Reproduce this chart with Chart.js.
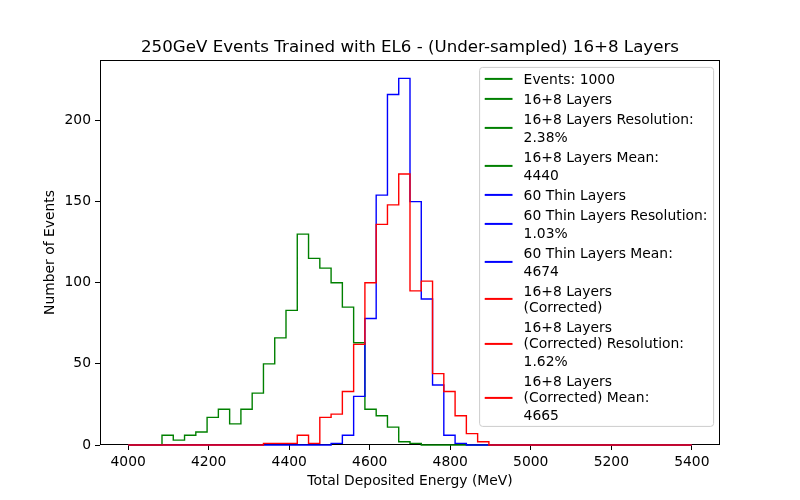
<!DOCTYPE html>
<html>
<head>
<meta charset="utf-8">
<script src="https://cdn.jsdelivr.net/npm/chart.js@4.4.0/dist/chart.umd.min.js"></script>
<style>
  html, body { margin: 0; padding: 0; background: #fff; }
  #wrap { width: 800px; height: 500px; }
</style>
</head>
<body>
<div id="wrap"><canvas id="chart" width="800" height="500"></canvas></div>
<script>
// histogram bin edges (MeV), 50 bins of 28 MeV
const binEdges = [4000, 4028, 4056, 4084, 4112, 4140, 4168, 4196, 4224, 4252,
  4280, 4308, 4336, 4364, 4392, 4420, 4448, 4476, 4504, 4532,
  4560, 4588, 4616, 4644, 4672, 4700, 4728, 4756, 4784, 4812,
  4840, 4868, 4896, 4924, 4952, 4980, 5008, 5036, 5064, 5092,
  5120, 5148, 5176, 5204, 5232, 5260, 5288, 5316, 5344, 5372, 5400]

// counts per bin
const layers16p8 = [0, 0, 0, 6, 3, 6, 8, 17, 22, 13,
  22, 32, 50, 66, 83, 130, 115, 109, 100, 85,
  63, 22, 18, 11, 2, 1, 0, 0, 0, 0,
  0, 0, 0, 0, 0, 0, 0, 0, 0, 0,
  0, 0, 0, 0, 0, 0, 0, 0, 0, 0]
const thin60 = [0, 0, 0, 0, 0, 0, 0, 0, 0, 0,
  0, 0, 0, 0, 0, 0, 0, 0, 1, 6,
  30, 78, 154, 216, 226, 150, 90, 37, 6, 1,
  0, 0, 0, 0, 0, 0, 0, 0, 0, 0,
  0, 0, 0, 0, 0, 0, 0, 0, 0, 0]
const corrected = [0, 0, 0, 0, 0, 0, 0, 0, 0, 0,
  0, 0, 1, 1, 1, 6, 1, 17, 19, 33,
  62, 100, 136, 148, 167, 95, 101, 44, 33, 18,
  7, 2, 0, 0, 0, 0, 0, 0, 0, 0,
  0, 0, 0, 0, 0, 0, 0, 0, 0, 0]

const xTicks = [4000, 4200, 4400, 4600, 4800, 5000, 5200, 5400]
const yTicks = [0, 50, 100, 150, 200]

const legendLabels = [
  ['Events: 1000'],
  ['16+8 Layers'],
  ['16+8 Layers Resolution:', '2.38%'],
  ['16+8 Layers Mean:', '4440'],
  ['60 Thin Layers'],
  ['60 Thin Layers Resolution:', '1.03%'],
  ['60 Thin Layers Mean:', '4674'],
  ['16+8 Layers', '(Corrected)'],
  ['16+8 Layers', '(Corrected) Resolution:', '1.62%'],
  ['16+8 Layers', '(Corrected) Mean:', '4665']
]
const legendColors = ['green', 'green', 'green', 'green', 'blue', 'blue', 'blue', 'red', 'red', 'red']

const FONT = '"DejaVu Sans"'
const FS = 13.89

// step outline like matplotlib histtype='step'
function steps (counts) {
  const last = binEdges[binEdges.length - 1]
  const pts = [{ x: binEdges[0], y: 0 }]
  counts.forEach((c, i) => pts.push({ x: binEdges[i], y: c }))
  pts.push({ x: last, y: counts[counts.length - 1] })
  pts.push({ x: last, y: 0 })
  return pts
}

const frame = {
  id: 'frame',
  beforeDatasetsDraw (chart) {
    const { ctx, chartArea: a } = chart
    ctx.save()
    ctx.strokeStyle = '#000'
    ctx.lineWidth = 1
    ctx.strokeRect(a.left + 0.5, a.top + 0.5, a.right - a.left - 1, a.bottom - a.top - 1)
    ctx.restore()
  }
}

const legendBox = {
  id: 'legendBox',
  afterDraw (chart) {
    const { ctx, chartArea: a } = chart
    ctx.save()
    ctx.font = FS + 'px ' + FONT
    let maxW = 0
    legendLabels.forEach(lines => lines.forEach(t => { maxW = Math.max(maxW, ctx.measureText(t).width) }))
    const pad = 5.6, handleLen = 27.8, handleGap = 11.1
    const right = a.right - 6.9
    const left = right - (pad + handleLen + handleGap + maxW + pad)
    const top = a.top + 6.9

    let y = top + 12
    const rows = legendLabels.map(lines => {
      const ys = lines.map((t, j) => {
        if (j > 0) y += /^[\d.%]+$/.test(t) ? 18 : 16
        return y
      })
      y += 20
      return ys
    })
    const bottom = y - 20 + 11

    ctx.beginPath()
    ctx.roundRect(left + 0.5, top + 0.5, right - left, bottom - top, 3)
    ctx.fillStyle = 'rgba(255,255,255,0.8)'
    ctx.fill()
    ctx.strokeStyle = '#cccccc'
    ctx.lineWidth = 1
    ctx.stroke()

    ctx.textBaseline = 'middle'
    ctx.textAlign = 'left'
    legendLabels.forEach((lines, i) => {
      const ys = rows[i]
      const hy = (ys[0] + ys[ys.length - 1]) / 2
      ctx.strokeStyle = legendColors[i]
      ctx.lineWidth = 2
      ctx.beginPath()
      ctx.moveTo(left + pad, hy)
      ctx.lineTo(left + pad + handleLen, hy)
      ctx.stroke()
      ctx.fillStyle = '#000'
      lines.forEach((t, j) => ctx.fillText(t, left + pad + handleLen + handleGap, ys[j] + 1))
    })
    ctx.restore()
  }
}

const span = binEdges[binEdges.length - 1] - binEdges[0]

const chart = new Chart('chart', {
  type: 'line',
  data: {
    datasets: [
      { label: '16+8 Layers (Corrected)', data: steps(corrected), borderColor: 'red', order: 0 },
      { label: '60 Thin Layers', data: steps(thin60), borderColor: 'blue', order: 1 },
      { label: '16+8 Layers', data: steps(layers16p8), borderColor: 'green', order: 2 }
    ]
  },
  options: {
    responsive: false,
    animation: false,
    events: [],
    datasets: {
      line: { stepped: true, pointRadius: 0, borderWidth: 1.4, fill: false, clip: false }
    },
    layout: { padding: { left: 0, right: 80, top: 0, bottom: 0 } },
    scales: {
      x: {
        type: 'linear',
        min: binEdges[0] - span * 0.05,
        max: binEdges[binEdges.length - 1] + span * 0.05,
        afterBuildTicks: s => { s.ticks = xTicks.map(v => ({ value: v })) },
        afterFit: s => { s.height = 55 },
        ticks: { color: '#000', font: { family: FONT, size: FS }, padding: 4, maxRotation: 0, autoSkip: false, callback: v => String(v) },
        grid: { drawOnChartArea: false, drawTicks: true, tickLength: 5, tickColor: '#000', tickWidth: 1 },
        border: { display: false },
        title: { display: true, text: 'Total Deposited Energy (MeV)', color: '#000', font: { family: FONT, size: FS }, padding: { bottom: 10 } }
      },
      y: {
        min: 0,
        max: Math.max(...thin60) * 1.05,
        afterBuildTicks: s => { s.ticks = yTicks.map(v => ({ value: v })) },
        afterFit: s => { s.width = 100 },
        ticks: { color: '#000', font: { family: FONT, size: FS }, padding: 4, callback: v => String(v) },
        grid: { drawOnChartArea: false, drawTicks: true, tickLength: 5, tickColor: '#000', tickWidth: 1 },
        border: { display: false },
        title: { display: true, text: 'Number of Events', color: '#000', font: { family: FONT, size: FS }, padding: { top: 42 } }
      }
    },
    plugins: {
      legend: { display: false },
      tooltip: { enabled: false },
      title: {
        display: true,
        fullSize: false,
        text: '250GeV Events Trained with EL6 - (Under-sampled) 16+8 Layers',
        color: '#000',
        font: { family: FONT, size: 16.67, weight: 'normal' },
        padding: { top: 38, bottom: 2 }
      }
    }
  },
  plugins: [frame, legendBox]
})
</script>
</body>
</html>
